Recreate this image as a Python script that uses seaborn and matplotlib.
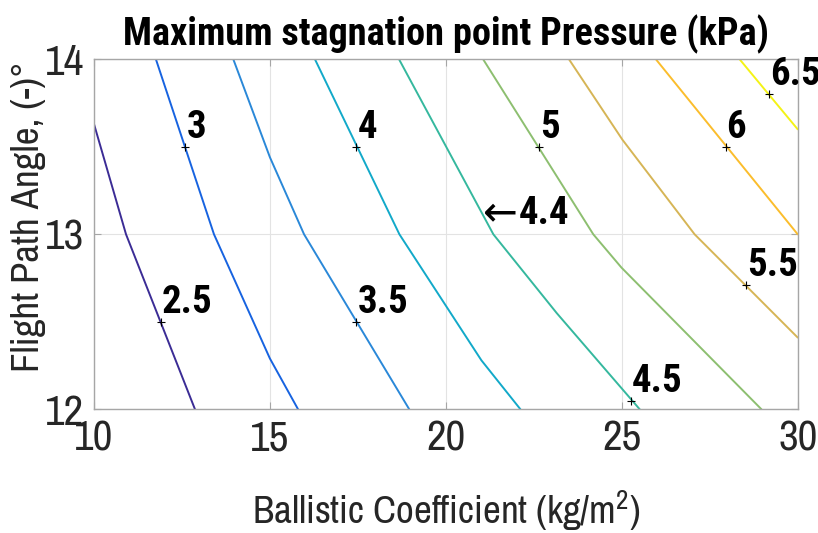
import numpy as np
import pandas as pd
import seaborn as sns
import matplotlib.pyplot as plt

# ---------------- data ----------------
levels = [2.5, 3, 3.5, 4, 4.5, 5, 5.5, 6, 6.5]
level_text = ["2.5", "3", "3.5", "4", "4.5", "5", "5.5", "6", "6.5"]

bc_25 = [10.0, 10.91, 12.87]
fpa_25 = [13.63, 13.0, 12.0]
bc_30 = [11.76, 13.41, 15.0, 15.80]
fpa_30 = [14.0, 13.0, 12.29, 12.0]
bc_35 = [13.96, 15.0, 15.97, 18.96]
fpa_35 = [14.0, 13.44, 13.0, 12.0]
bc_40 = [16.28, 18.68, 21.01, 22.12]
fpa_40 = [14.0, 13.0, 12.28, 12.0]
bc_45 = [18.67, 21.35, 23.15, 25.51]
fpa_45 = [14.0, 13.0, 12.55, 12.0]
bc_50 = [21.06, 24.19, 24.99, 28.97]
fpa_50 = [14.0, 13.0, 12.81, 12.0]
bc_55 = [23.50, 25.02, 27.07, 30.0]
fpa_55 = [14.0, 13.54, 13.0, 12.41]
bc_60 = [25.97, 30.0]
fpa_60 = [14.0, 13.0]
bc_65 = [28.35, 30.0]
fpa_65 = [14.0, 13.6]

label_bc = [11.90, 12.60, 17.46, 17.46, 25.26, 22.65, 28.54, 27.95, 29.18]
label_fpa = [12.50, 13.50, 12.50, 13.50, 12.05, 13.50, 12.71, 13.50, 13.80]

note_bc, note_fpa, note_text = 21.11, 13.12, "4.4"

level_colors = ["#3b2c95", "#1763e0", "#2a88d8", "#12a9c9", "#35b89e",
                "#8dbf70", "#d6b556", "#fbbd2c", "#f4f316"]

x_ticks = [10, 15, 20, 25, 30]
y_ticks = [12, 13, 14]

# ---------------- style ----------------
sns.set_style("white")
FAM = ['Archivo Narrow', 'Roboto Condensed', 'Liberation Sans', 'DejaVu Sans']
BOLD_FAM = ['Roboto Condensed', 'Liberation Sans', 'DejaVu Sans']
plt.rcParams['font.family'] = FAM
plt.rcParams['mathtext.fontset'] = 'custom'
plt.rcParams['mathtext.rm'] = 'Archivo Narrow'

fig = plt.figure(figsize=(8.18, 5.33), dpi=100)
ax = fig.add_axes([94 / 818, 1 - 409.3 / 533, (797.7 - 94) / 818, 350 / 533])

lines = [(bc_25, fpa_25), (bc_30, fpa_30), (bc_35, fpa_35), (bc_40, fpa_40),
         (bc_45, fpa_45), (bc_50, fpa_50), (bc_55, fpa_55), (bc_60, fpa_60),
         (bc_65, fpa_65)]
for (bx, fy), col in zip(lines, level_colors):
    sns.lineplot(x=bx, y=fy, sort=False, estimator=None, color=col,
                 linewidth=1.4, ax=ax)

sns.scatterplot(x=label_bc, y=label_fpa, marker='+', color='black', s=35,
                linewidth=0.8, ax=ax, zorder=5)

for bx, fy, t in zip(label_bc, label_fpa, level_text):
    ax.annotate(t, (bx, fy), xytext=(1, 9), textcoords='offset pixels',
                ha='left', va='baseline', fontsize=28, fontweight='bold',
                family=BOLD_FAM, color='black', annotation_clip=False)

ax.annotate("\u2190", (note_bc, note_fpa), xytext=(-2, 0), textcoords='offset pixels',
            ha='left', va='center', fontsize=30, color='black',
            family=['DejaVu Sans'])
ax.annotate(note_text, (note_bc, note_fpa), xytext=(34, -11), textcoords='offset pixels',
            ha='left', va='baseline', fontsize=28, fontweight='bold',
            family=BOLD_FAM, color='black')

ax.set_xlim(10, 30)
ax.set_ylim(12, 14)
ax.set_xticks(x_ticks)
ax.set_yticks(y_ticks)
ax.set_xticklabels([str(v) for v in x_ticks])
ax.set_yticklabels([str(v) for v in y_ticks])
ax.grid(True, color='#e3e3e3', linewidth=0.8)
ax.set_axisbelow(True)
for s in ax.spines.values():
    s.set_color('#a6a6a6')
    s.set_linewidth(1.0)
ax.tick_params(axis='both', which='both', direction='in', length=5, width=0.8,
               color='#a6a6a6', labelsize=31, labelcolor='#262626', pad=7,
               top=True, right=True, bottom=True, left=True)

ax.set_xlabel("Ballistic Coefficient (kg/m$\\mathregular{^2}$)", fontsize=28,
              color='#262626')
ax.set_ylabel("Flight Path Angle, (-)\u00b0", fontsize=28, color='#262626')
ax.xaxis.set_label_coords(0.5, -0.225)
ax.yaxis.set_label_coords(-0.068, 0.55)
ax.set_title("Maximum stagnation point Pressure (kPa)", fontsize=27.5,
             fontweight='bold', family=BOLD_FAM, color='black', pad=10)

fig.savefig("out.png", dpi=100)
